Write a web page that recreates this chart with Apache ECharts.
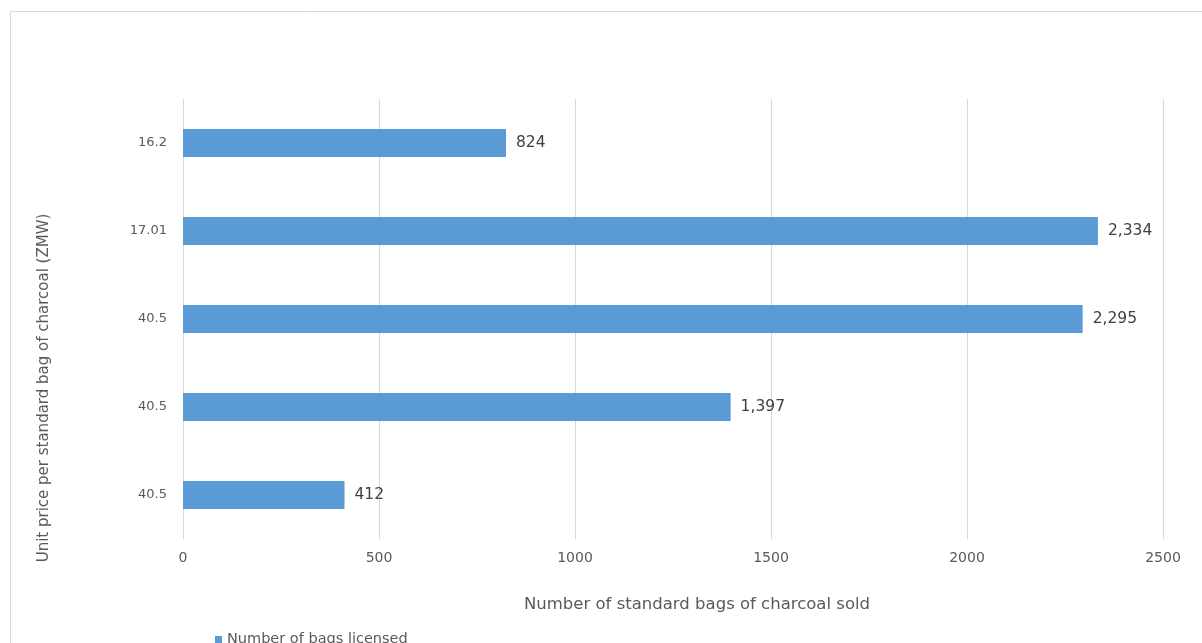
<!DOCTYPE html>
<html><head><meta charset="utf-8">
<script src="https://cdn.jsdelivr.net/npm/echarts@6/dist/echarts.min.js"></script>
<style>html,body{margin:0;padding:0;background:#fff}#c{width:1202px;height:643px}</style>
</head><body><div id="c"></div>
<script>
const categories = ["16.2", "17.01", "40.5", "40.5", "40.5"];
const bagsLicensed = [824, 2334, 2295, 1397, 412];
const xTicks = [0, 500, 1000, 1500, 2000, 2500];
const seriesName = "Number of bags licensed";

const FONT = '"DejaVu Sans", sans-serif';
const chart = echarts.init(document.getElementById('c'));
chart.setOption({
  animation: false,
  backgroundColor: '#fff',
  textStyle: { fontFamily: FONT },
  grid: { left: 183, right: 39, top: 99, bottom: 104, containLabel: false },
  xAxis: {
    type: 'value', min: xTicks[0], max: xTicks[xTicks.length - 1], interval: 500,
    axisLine: { show: false }, axisTick: { show: false },
    splitLine: { lineStyle: { color: '#d9d9d9', width: 1 } },
    axisLabel: { color: '#595959', fontSize: 14, fontFamily: FONT, margin: 12, formatter: v => String(v) },
    name: 'Number of standard bags of charcoal sold', nameLocation: 'middle', nameGap: 57,
    nameTextStyle: { color: '#595959', fontSize: 16.5, fontFamily: FONT, padding: [0, 0, 0, 48] }
  },
  yAxis: {
    type: 'category', data: categories, inverse: true,
    axisLine: { show: false }, axisTick: { show: false },
    axisLabel: { color: '#595959', fontSize: 13, fontFamily: FONT, margin: 16 }
  },
  legend: {
    show: true, left: 210, top: 627, itemWidth: 7, itemHeight: 7, itemGap: 5,
    icon: 'rect', textStyle: { color: '#595959', fontSize: 14.5, fontFamily: FONT },
    data: [seriesName]
  },
  graphic: [
    { type: 'rect', left: 8, top: 9, shape: { width: 1250, height: 700 },
      style: { fill: 'none', stroke: '#d9d9d9', lineWidth: 1 } },
    { type: 'text', x: 44, y: 388, rotation: Math.PI / 2,
      style: { text: 'Unit price per standard bag of charcoal (ZMW)', fill: '#595959', fontSize: 15,
        fontFamily: FONT, align: 'center', verticalAlign: 'middle' } }
  ],
  series: [{
    name: seriesName, type: 'bar', data: bagsLicensed, barWidth: 28,
    itemStyle: { color: '#5B9BD5' },
    label: { show: true, position: 'right', distance: 10, color: '#404040', fontSize: 15.5, fontFamily: FONT,
      formatter: p => p.value.toLocaleString('en-US') }
  }]
});
</script></body></html>
